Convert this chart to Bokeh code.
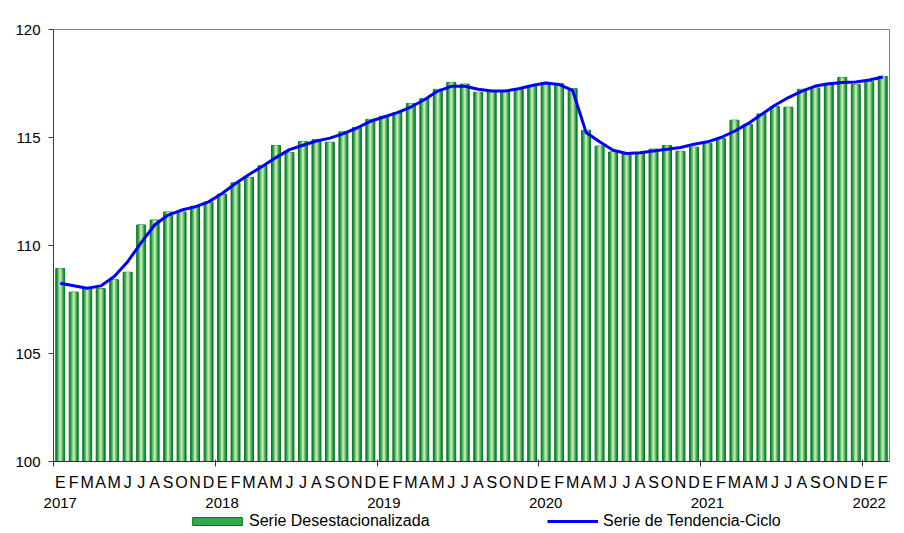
import numpy as np
from bokeh.plotting import figure
from bokeh.layouts import column
from bokeh.models import (Range1d, FixedTicker, LinearAxis, Legend, LegendItem,
                          ColumnDataSource)
from bokeh.embed import file_html
from bokeh.resources import INLINE

# ---- data -------------------------------------------------------------
month_letters = ["E", "F", "M", "A", "M", "J", "J", "A", "S", "O", "N", "D"]
year_labels = ["2017", "2018", "2019", "2020", "2021", "2022"]

serie_desestacionalizada = [
    108.93, 107.84, 108.00, 108.00, 108.41, 108.76, 110.95, 111.18, 111.55, 111.55, 111.82, 112.01,
    112.38, 112.90, 113.15, 113.69, 114.63, 114.30, 114.81, 114.90, 114.78, 115.26, 115.46, 115.84,
    115.98, 116.15, 116.57, 116.80, 117.23, 117.55, 117.47, 117.09, 117.14, 117.15, 117.24, 117.38,
    117.55, 117.49, 117.26, 115.33, 114.60, 114.33, 114.23, 114.26, 114.46, 114.63, 114.36, 114.55,
    114.73, 114.95, 115.80, 115.61, 116.09, 116.43, 116.40, 117.23, 117.29, 117.51, 117.78, 117.45,
    117.58, 117.83,
]

serie_tendencia_ciclo = [
    108.25, 108.14, 108.02, 108.13, 108.56, 109.25, 110.13, 110.95, 111.41, 111.64, 111.79, 112.02,
    112.41, 112.87, 113.29, 113.67, 114.07, 114.44, 114.64, 114.84, 114.97, 115.18, 115.44, 115.75,
    115.95, 116.15, 116.41, 116.75, 117.15, 117.37, 117.37, 117.23, 117.15, 117.15, 117.26, 117.41,
    117.52, 117.45, 117.18, 115.23, 114.80, 114.41, 114.26, 114.29, 114.38, 114.46, 114.54, 114.69,
    114.80, 115.00, 115.29, 115.64, 116.06, 116.49, 116.85, 117.15, 117.38, 117.49, 117.55, 117.57,
    117.66, 117.80,
]

y_ticks = [100, 105, 110, 115, 120]

# ---- derived ----------------------------------------------------------
n = len(serie_desestacionalizada)
xs = list(range(n))
month_of = [month_letters[i % 12] for i in xs]
jan_positions = [i for i in xs if i % 12 == 0]
year_bounds = [i - 0.5 for i in jan_positions]

src = ColumnDataSource(dict(x=xs, top=serie_desestacionalizada,
                            trend=serie_tendencia_ciclo))

FONT = "Liberation Sans"
BLUE = "#0000ff"

p = figure(width=904, height=510, output_backend="svg", toolbar_location=None,
           x_range=Range1d(-0.5, n - 0.5), y_range=Range1d(100, 120),
           min_border_left=53, min_border_right=15, min_border_top=29,
           min_border_bottom=48, x_axis_type=None)
p.grid.visible = False
p.outline_line_color = "#808080"
p.outline_line_width = 1
p.background_fill_color = "white"
p.border_fill_color = "white"

# layered bars to imitate a gradient fill
layers = [
    (0.66, "#0a8a2e", "#06741f"),
    (0.50, "#30a54a", None),
    (0.34, "#6ec27a", None),
    (0.16, "#c6e5ae", None),
]
for w, fc, lc in layers:
    p.vbar(x="x", top="top", bottom=100, width=w, source=src,
           fill_color=fc, line_color=lc, line_width=1)

p.line(x="x", y="trend", source=src, line_color=BLUE, line_width=3)

# y axis
yax = p.yaxis[0]
yax.ticker = FixedTicker(ticks=y_ticks)
yax.minor_tick_line_color = None
yax.major_tick_out = 5
yax.major_tick_in = 0
yax.major_label_standoff = 8
yax.axis_line_color = "#404040"
yax.major_tick_line_color = "#404040"
yax.major_label_text_font = FONT
yax.major_label_text_font_size = "15px"
yax.major_label_text_color = "black"

# month axis
max_ = LinearAxis(ticker=FixedTicker(ticks=xs, minor_ticks=year_bounds),
                  major_label_overrides={i: month_of[i] for i in xs})
max_.major_tick_out = 0
max_.major_tick_in = 0
max_.major_tick_line_color = None
max_.minor_tick_out = 5
max_.minor_tick_in = 2
max_.minor_tick_line_color = "#303030"
max_.axis_line_color = "#303030"
max_.major_label_standoff = 7
max_.major_label_text_font = FONT
max_.major_label_text_font_size = "16px"
max_.major_label_text_color = "black"
p.add_layout(max_, "below")

# year axis
yrax = LinearAxis(ticker=FixedTicker(ticks=jan_positions),
                  major_label_overrides={pos: year_labels[k] for k, pos in enumerate(jan_positions)})
yrax.axis_line_color = None
yrax.major_tick_line_color = None
yrax.minor_tick_line_color = None
yrax.major_tick_out = 0
yrax.major_tick_in = 0
yrax.major_label_standoff = 4
yrax.major_label_text_font = FONT
yrax.major_label_text_font_size = "15px"
yrax.major_label_text_color = "black"
p.add_layout(yrax, "below")

# ---- legend strip (its frame is aligned with the main frame) ----------
lf = figure(width=904, height=23, output_backend="svg", toolbar_location=None,
            x_range=Range1d(0, 1), y_range=Range1d(0, 1),
            x_axis_type=None, y_axis_type=None,
            min_border=0, min_border_left=0, min_border_right=0,
            min_border_top=0, min_border_bottom=0)
lf.grid.visible = False
lf.outline_line_color = None
lf.background_fill_color = "white"
lf.border_fill_color = "white"

# key renderers: hidden, used only for the legend swatches
bar_key = lf.vbar(x="x", top="top", bottom=100, width=0.5, source=src,
                  fill_color="#34a84e", line_color="#06741f", visible=False)
line_key = lf.line(x="x", y="trend", source=src, line_color=BLUE, line_width=3,
                   visible=False)


def make_legend(label, rend, loc, gw, standoff):
    lg = Legend(items=[LegendItem(label=label, renderers=[rend])], location=loc)
    lg.border_line_color = None
    lg.background_fill_alpha = 0
    lg.inactive_fill_alpha = 0
    lg.padding = 0
    lg.margin = 0
    lg.glyph_width = gw
    lg.glyph_height = 10
    lg.label_standoff = standoff
    lg.label_height = 14
    lg.label_text_font = FONT
    lg.label_text_font_size = "16px"
    lg.label_text_color = "black"
    return lg


lf.add_layout(make_legend("Serie Desestacionalizada", bar_key, (133, 3), 62, 1), "center")
lf.add_layout(make_legend("Serie de Tendencia-Ciclo", line_key, (494, 3), 51, 5), "center")

layout = column(p, lf, spacing=0)
open("out.html", "w").write(file_html(layout, INLINE))
